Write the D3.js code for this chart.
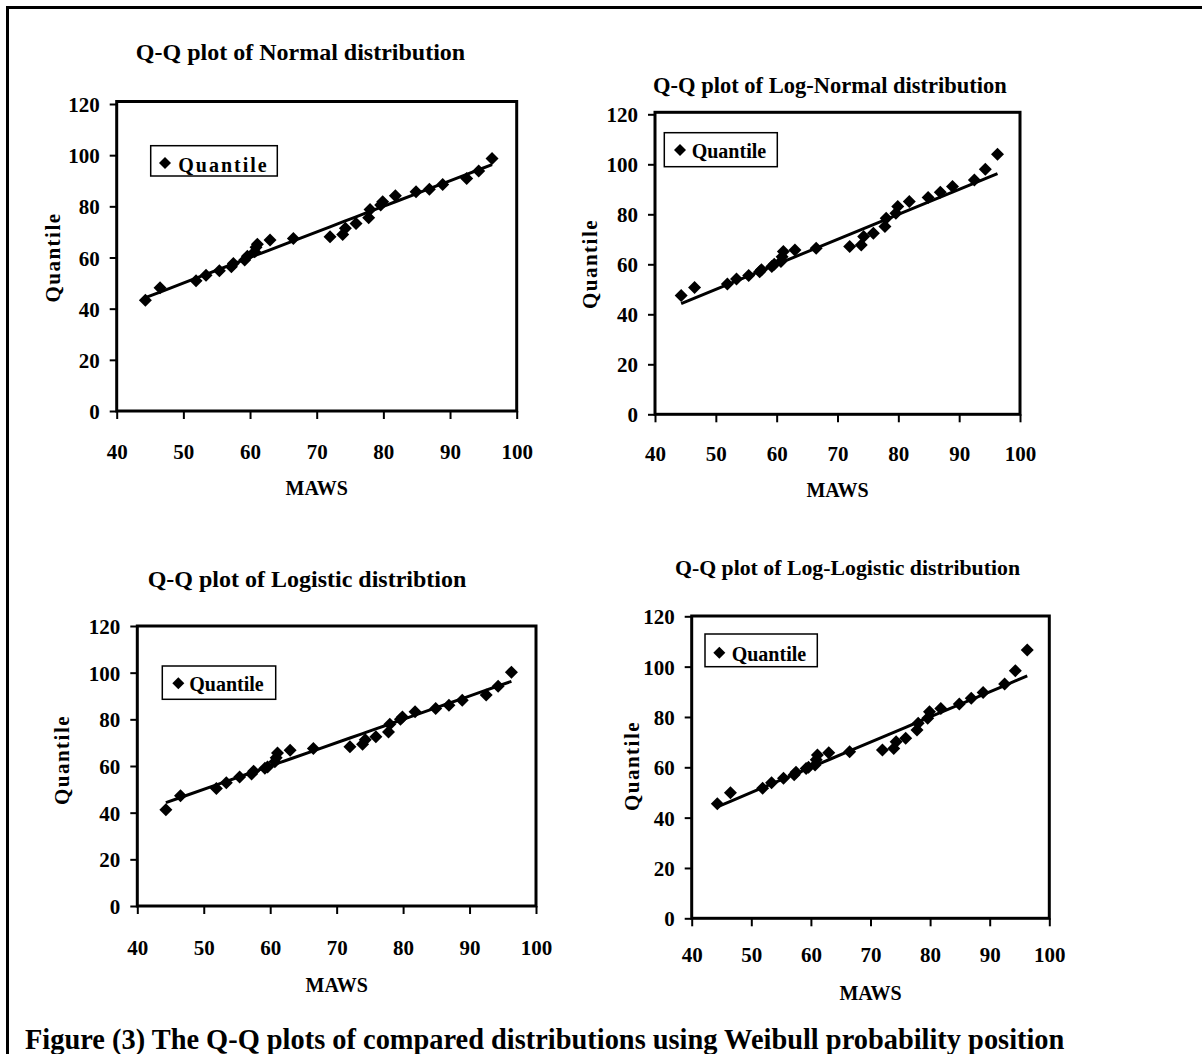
<!DOCTYPE html>
<html><head><meta charset="utf-8">
<script src="https://cdn.jsdelivr.net/npm/d3@7"></script>
<style>
body{margin:0;background:#fff}
svg text{font-family:"Liberation Serif","Times New Roman",serif;font-weight:bold;fill:#000}
</style>
</head><body>
<svg id="c" width="1202" height="1054"></svg>
<script>
// ---- data ----
const maws = [44.3, 46.5, 51.9, 53.4, 55.4, 57.2, 57.5, 59.2, 59.6, 60.7, 60.9, 61.1, 63.0, 66.5, 72.0, 73.9, 74.3, 75.9, 77.8, 78.0, 79.6, 79.9, 81.8, 84.9, 86.9, 88.9, 92.5, 94.3, 96.3];
const qNormal      = [43.3, 48.2, 50.9, 53.1, 54.8, 56.4, 57.7, 59.0, 60.5, 62.2, 64.0, 65.2, 66.8, 67.4, 68.1, 69.0, 71.4, 73.3, 75.5, 78.8, 80.5, 81.8, 84.1, 85.7, 86.7, 88.5, 90.9, 93.8, 98.7];
const qLogNormal   = [47.5, 50.7, 52.1, 54.1, 55.5, 57.0, 57.8, 59.1, 60.0, 61.1, 63.0, 65.1, 65.7, 66.4, 67.1, 67.7, 71.1, 72.4, 75.1, 78.4, 80.4, 83.1, 85.1, 86.7, 88.8, 91.1, 93.7, 98.0, 104.0];
const qLogistic    = [41.2, 47.2, 50.4, 52.8, 55.3, 56.6, 57.8, 59.0, 59.6, 61.8, 63.5, 65.6, 66.8, 67.5, 68.2, 69.3, 71.3, 72.5, 74.6, 77.9, 80.0, 81.0, 83.2, 84.6, 86.0, 88.2, 90.4, 94.2, 100.2];
const qLogLogistic = [45.5, 49.9, 51.7, 53.9, 55.6, 57.0, 58.0, 59.5, 60.0, 60.9, 63.0, 64.9, 65.8, 66.2, 66.9, 67.5, 70.2, 71.5, 74.8, 77.5, 79.5, 82.1, 83.4, 85.2, 87.4, 89.7, 93.1, 98.4, 106.6];
const xTicks = [40, 50, 60, 70, 80, 90, 100];
const yTicks = [0, 20, 40, 60, 80, 100, 120];
const titles = ["Q-Q plot of Normal distribution", "Q-Q plot of Log-Normal distribution",
                "Q-Q plot of Logistic distribtion", "Q-Q plot of Log-Logistic distribution"];
const series = [qNormal, qLogNormal, qLogistic, qLogLogistic];
const xTitle = "MAWS", yTitle = "Quantile", legendLabel = "Quantile";
const caption = "Figure (3) The Q-Q plots of compared distributions using Weibull probability position";

// ---- layout ----
const layouts = [
  {x0:116.7, x1:516.7, yb:411, yt:104, ft:101.5, title:{x:300.5, y:60, s:24}, yl:{x:53, y:257.5}, xlb:459, mw:495,
   lg:{x:150.7, y:145.7, w:126.6, h:30.3, dx:165, dy:163, tx:178.3, ty:172.3, ls:2}},
  {x0:655, x1:1020, yb:414.3, yt:114.3, ft:112.3, title:{x:830, y:93, s:22.5}, yl:{x:590, y:264}, xlb:461, mw:497,
   lg:{x:664.3, y:132.7, w:113, h:34, dx:680, dy:150, tx:691.7, ty:158.3, ls:0}},
  {x0:137.3, x1:536, yb:906, yt:626, ft:626, title:{x:307, y:587, s:24}, yl:{x:62, y:760}, xlb:955, mw:992,
   lg:{x:162.3, y:666, w:113.4, h:33.3, dx:178.3, dy:683.3, tx:189.3, ty:691, ls:0}},
  {x0:691.7, x1:1049.3, yb:918.3, yt:616.3, ft:616, title:{x:847.5, y:575, s:21.8}, yl:{x:632, y:766}, xlb:962, mw:1000,
   lg:{x:705, y:634, w:112.3, h:32.7, dx:719.3, dy:652.7, tx:731.7, ty:660.7, ls:0}}
];

const svg = d3.select("#c");
svg.append("rect").attr("width",1202).attr("height",1054).attr("fill","#fff");
// outer frame (top & left visible)
svg.append("path").attr("d","M7.5,1060 V7.5 H1210").attr("fill","none").attr("stroke","#000").attr("stroke-width",3);

const diamond = (x,y,r) => `M${x},${y-r}L${x+r},${y}L${x},${y+r}L${x-r},${y}Z`;

layouts.forEach((L, i) => {
  const q = series[i];
  const x = d3.scaleLinear().domain([40,100]).range([L.x0, L.x1]);
  const y = d3.scaleLinear().domain([0,120]).range([L.yb, L.yt]);
  const g = svg.append("g");

  // title
  g.append("text").attr("x",L.title.x).attr("y",L.title.y).attr("text-anchor","middle")
    .style("font-size",L.title.s+"px").text(titles[i]);

  // frame
  g.append("rect").attr("x",L.x0).attr("y",L.ft).attr("width",L.x1-L.x0).attr("height",L.yb-L.ft)
    .attr("fill","none").attr("stroke","#000").attr("stroke-width",3);

  // axes
  const xa = g.append("g").attr("transform",`translate(0,${L.yb})`)
    .call(d3.axisBottom(x).tickValues(xTicks).tickSize(8).tickSizeOuter(0));
  xa.select(".domain").remove();
  xa.selectAll("line").attr("stroke","#000").attr("stroke-width",2);
  xa.selectAll("text").attr("y",L.xlb-L.yb).attr("dy",0).style("font-size","21px")
    .style("font-family",'"Liberation Serif",serif').style("font-weight","bold");

  const ya = g.append("g").attr("transform",`translate(${L.x0},0)`)
    .call(d3.axisLeft(y).tickValues(yTicks).tickSize(7).tickSizeOuter(0));
  ya.select(".domain").remove();
  ya.selectAll("line").attr("stroke","#000").attr("stroke-width",2);
  ya.selectAll("text").attr("x",-17).attr("dy","0.36em").style("font-size","21px")
    .style("font-family",'"Liberation Serif",serif').style("font-weight","bold");

  // axis titles
  g.append("text").attr("x",(L.x0+L.x1)/2).attr("y",L.mw).attr("text-anchor","middle")
    .style("font-size","20px").text(xTitle);
  g.append("text").attr("transform",`translate(${L.yl.x},${L.yl.y}) rotate(-90)`)
    .attr("text-anchor","middle").attr("dy","0.35em").style("font-size","21px")
    .style("letter-spacing","1.5px").text(yTitle);

  // reference line (MAWS vs MAWS)
  g.append("path").datum(maws)
    .attr("d", d3.line().x(d => x(d)).y(d => y(d)))
    .attr("fill","none").attr("stroke","#000").attr("stroke-width",3);

  // points
  g.selectAll("path.pt").data(maws.map((m,k)=>[m,q[k]])).join("path").attr("class","pt")
    .attr("d", d => diamond(x(d[0]), y(d[1]), 6.5)).attr("fill","#000");

  // legend
  const lg = L.lg;
  g.append("rect").attr("x",lg.x).attr("y",lg.y).attr("width",lg.w).attr("height",lg.h)
    .attr("fill","#fff").attr("stroke","#000").attr("stroke-width",1.5);
  g.append("path").attr("d",diamond(lg.dx,lg.dy,6)).attr("fill","#000");
  g.append("text").attr("x",lg.tx).attr("y",lg.ty).style("font-size","20px")
    .style("letter-spacing",lg.ls+"px").text(legendLabel);
});

svg.append("text").attr("x",25).attr("y",1049).style("font-size","28.4px").text(caption);
</script>
</body></html>
